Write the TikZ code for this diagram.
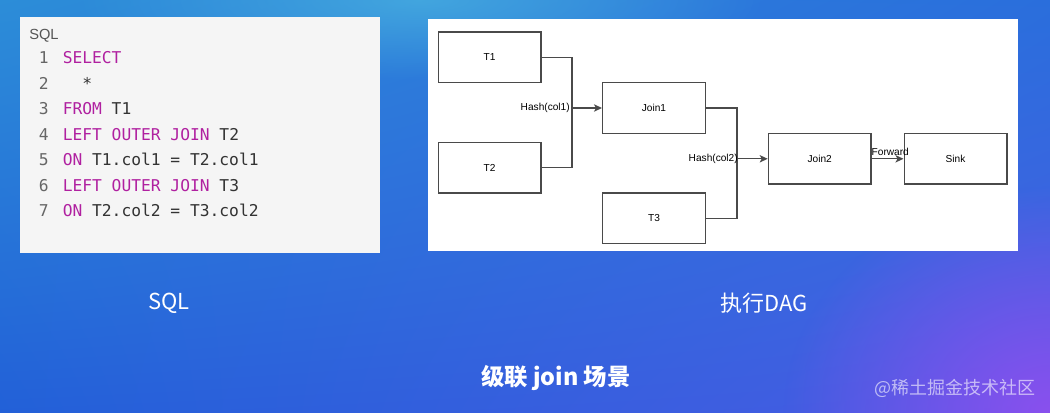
\documentclass[tikz,border=0pt]{standalone}
\usepackage{fontspec}
\setmainfont{Liberation Sans}
\newfontfamily\codefont{DejaVu Sans Mono}
\newfontfamily\cjk{Noto Sans CJK SC}
\usetikzlibrary{arrows.meta,fadings,shadings}
\tikzfading[name=radfade, inner color=transparent!0, outer color=transparent!100]
\definecolor{bgul}{HTML}{2C8DD8}
\definecolor{bgur}{HTML}{2A6EDC}
\definecolor{bgll}{HTML}{2260D8}
\definecolor{bglr}{HTML}{4A5CE4}
\definecolor{purplec}{HTML}{8A50EE}
\definecolor{cyanc}{HTML}{4AB2E0}
\definecolor{codebg}{HTML}{F5F5F5}
\definecolor{kw}{RGB}{176,32,160}
\definecolor{codetxt}{HTML}{333333}
\definecolor{numgray}{HTML}{666666}
\definecolor{hdrgray}{HTML}{555555}
\definecolor{linegray}{HTML}{4A4A4A}
\tikzset{
  codeline/.style={anchor=base west, inner sep=0pt, font=\codefont\fontsize{12.2}{14}\selectfont, text=codetxt},
  lnum/.style={codeline, text=numgray},
  dagbox/.style={draw=linegray, line width=1pt, fill=white, minimum width=77pt, minimum height=38pt, inner sep=0pt, font=\fontsize{7.6}{9}\selectfont, text=black},
  conn/.style={draw=linegray, line width=1pt},
  arr/.style={conn, -{Stealth[length=6pt,width=5.5pt,inset=1.5pt]}},
  edgelabel/.style={inner sep=0pt, font=\fontsize{7.6}{9}\selectfont, text=black},
  caption/.style={inner sep=0pt, text=white, font=\cjk\fontsize{16.5}{19}\selectfont}
}
\begin{document}
\begin{tikzpicture}[x=0.75pt,y=-0.75pt]
\useasboundingbox (0,0) rectangle (1050,413);
% background
\shade[upper left=bgul, upper right=bgur, lower left=bgll, lower right=bglr] (0,0) rectangle (1050,413);
\fill[cyanc, path fading=radfade, opacity=0.75] (420,0) ellipse [x radius=260pt, y radius=60pt];
\fill[purplec, path fading=radfade] (1050,413) ellipse [x radius=200pt, y radius=170pt];
% code panel
\fill[codebg] (20,17) rectangle (380,253);
\node[anchor=base west, inner sep=0pt, text=hdrgray, font=\fontsize{11}{13}\selectfont] (hdr) at (29,39.4) {SQL};
\node[lnum] (n1) at (38.5,63.6) {1};
\node[codeline] (c1) at (62.5,63.6) {\textcolor{kw}{SELECT}};
\node[lnum] (n2) at (38.5,89.1) {2};
\node[codeline] (c2) at (62.5,89.1) {\ \ *};
\node[lnum] (n3) at (38.5,114.6) {3};
\node[codeline] (c3) at (62.5,114.6) {\textcolor{kw}{FROM} T1};
\node[lnum] (n4) at (38.5,140.1) {4};
\node[codeline] (c4) at (62.5,140.1) {\textcolor{kw}{LEFT OUTER JOIN} T2};
\node[lnum] (n5) at (38.5,165.6) {5};
\node[codeline] (c5) at (62.5,165.6) {\textcolor{kw}{ON} T1.col1 = T2.col1};
\node[lnum] (n6) at (38.5,191.1) {6};
\node[codeline] (c6) at (62.5,191.1) {\textcolor{kw}{LEFT OUTER JOIN} T3};
\node[lnum] (n7) at (38.5,216.6) {7};
\node[codeline] (c7) at (62.5,216.6) {\textcolor{kw}{ON} T2.col2 = T3.col2};
% DAG panel
\fill[white] (427.7,19) rectangle (1018.3,250.7);
\node[dagbox] (T1) at (489.5,57.5) {T1};
\node[dagbox] (T2) at (489.5,167.8) {T2};
\node[dagbox] (J1) at (654,108) {Join1};
\node[dagbox] (T3) at (654,218.5) {T3};
\node[dagbox] (J2) at (819.7,158.8) {Join2};
\node[dagbox] (S) at (955.5,158.8) {Sink};
\coordinate (j1) at (572,108);
\coordinate (j2) at (737,158.8);
\draw[conn] (T1.east) -| (j1) |- (T2.east);
\draw[arr] (j1) -- (J1.west);
\node[edgelabel, anchor=east] (h1) at (570,108) {Hash(col1)};
\draw[conn] (J1.east) -| (j2) |- (T3.east);
\draw[arr] (j2) -- (J2.west);
\node[edgelabel, anchor=east] (h2) at (738,158.8) {Hash(col2)};
\draw[arr] (J2.east) -- (S.west) node[edgelabel, midway, above=2pt, xshift=2pt] (fw) {Forward};
% captions
\node[caption] (capsql) at (169,303) {SQL};
\node[caption] (capdag) at (764,303) {执行DAG};
\node[caption, font=\cjk\bfseries\fontsize{17.5}{20}\selectfont] (title) at (556,378) {级联 join 场景};
\node[caption, text opacity=0.6, font=\cjk\fontsize{13.5}{15}\selectfont] (wm) at (955,388) {@稀土掘金技术社区};
\end{tikzpicture}
\end{document}
